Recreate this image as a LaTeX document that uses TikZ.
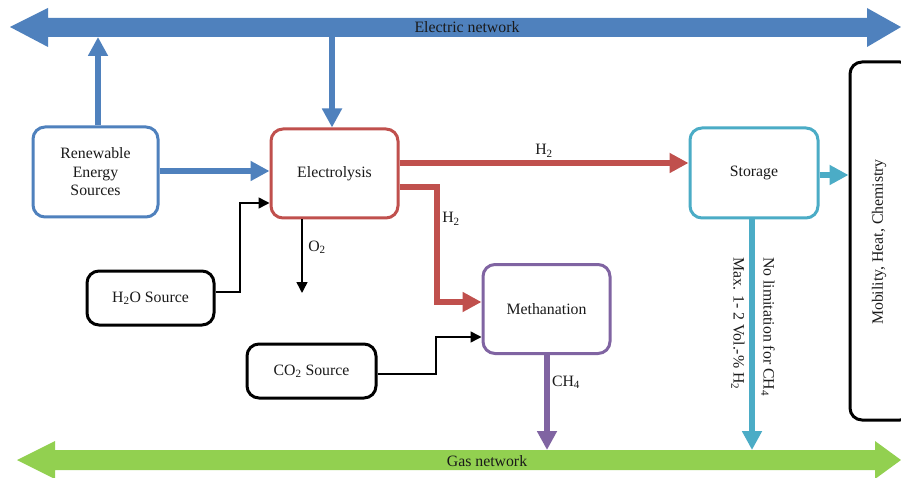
\documentclass[tikz,border=0pt]{standalone}
\usepackage{fontspec}
\setmainfont{Liberation Serif}
\usetikzlibrary{arrows.meta}
\definecolor{eblue}{HTML}{4F81BD}
\definecolor{ered}{HTML}{C0504D}
\definecolor{epurple}{HTML}{8064A2}
\definecolor{ecyan}{HTML}{4BACC6}
\definecolor{egreen}{HTML}{92D050}
\definecolor{etext}{HTML}{1A1A1A}
\begin{document}
\begin{tikzpicture}[x=1pt,y=-1pt,
  font=\fontsize{15.8}{18.5}\selectfont, text=etext,
  box/.style={draw, rounded corners=12pt, line width=3pt, fill=white, align=center, inner sep=0pt},
  fat/.style={line width=6pt, -{Triangle[length=19pt,width=19pt]}},
  slim/.style={line width=1.5pt, black, -{Triangle[length=11pt,width=11pt]}},
  lbl/.style={inner sep=1pt}]
\useasboundingbox (0,0) rectangle (901,478);
\fill[white] (0,0) rectangle (901,478);
% networks
\fill[eblue] (10,27) -- (48,8) -- (48,18) -- (867,18) -- (867,8) -- (901,27) -- (867,47) -- (867,37) -- (48,37) -- (48,47) -- cycle;
\node (elec) at (467,27) {Electric network};
\fill[egreen] (17,460) -- (55,441) -- (55,450) -- (875,450) -- (875,441) -- (901,460) -- (875,479) -- (875,470) -- (55,470) -- (55,479) -- cycle;
\node (gas) at (487,461) {Gas network};
\coordinate (en1) at (98,37);
\coordinate (en2) at (332,37);
\coordinate (gn1) at (547,450);
\coordinate (gn2) at (752,450);
% boxes
\node[box, draw=eblue, minimum width=125pt, minimum height=90pt] (ren) at (95.5,172) {Renewable\\Energy\\Sources};
\node[box, draw=ered, minimum width=127pt, minimum height=89pt] (el) at (334.5,173.5) {Electrolysis};
\node[box, draw=ecyan, minimum width=128pt, minimum height=90pt] (st) at (754,173) {Storage};
\node[box, draw=epurple, minimum width=127pt, minimum height=89pt] (me) at (546.5,309) {Methanation};
\node[box, draw=black, minimum width=127pt, minimum height=54pt] (h2o) at (150.5,298) {H\textsubscript{2}O Source};
\node[box, draw=black, minimum width=129pt, minimum height=54pt] (co2) at (311.5,371) {CO\textsubscript{2} Source};
\node[box, draw=black, minimum width=62pt, minimum height=358pt] (panel) at (881,241) {};
\node[rotate=90] (mhc) at (879,242) {Mobility, Heat, Chemistry};
% blue arrows
\draw[fat, eblue] (ren.north -| 98,0) -- (en1);
\draw[fat, eblue] (en2) -- (el.north -| 332,0);
\draw[fat, eblue] (ren.east |- 0,171) -- (el.west |- 0,171);
% red arrows
\draw[fat, ered] (el.east |- 0,163) -- (st.west |- 0,163);
\draw[fat, ered] (el.east |- 0,187) -| (437,302) -- (me.west |- 0,302);
\node[lbl] (h2a) at (544,151) {H\textsubscript{2}};
\node[lbl] (h2b) at (451,219) {H\textsubscript{2}};
% cyan
\draw[fat, ecyan] (st.east |- 0,175) -- (panel.west |- 0,175);
\draw[fat, ecyan] (st.south -| 752,0) -- (gn2);
\node[lbl, rotate=-90, anchor=west] (nolim) at (768,256) {No limitation for CH\textsubscript{4}};
\node[lbl, rotate=-90, anchor=west] (maxv) at (738,256) {Max. 1- 2 Vol.-\% H\textsubscript{2}};
% purple
\draw[fat, epurple] (me.south -| 547,0) -- (gn1);
\node[lbl] (ch4) at (566,382) {CH\textsubscript{4}};
% black connectors
\coordinate (o2end) at (302,293);
\draw[slim] (el.south -| 302,0) -- (o2end);
\node[lbl] (o2) at (317,247) {O\textsubscript{2}};
\draw[slim] (h2o.east |- 0,292) -| (240,203) -- (el.west |- 0,203);
\draw[slim] (co2.east |- 0,374) -| (436,337) -- (me.west |- 0,337);
\end{tikzpicture}
\end{document}
